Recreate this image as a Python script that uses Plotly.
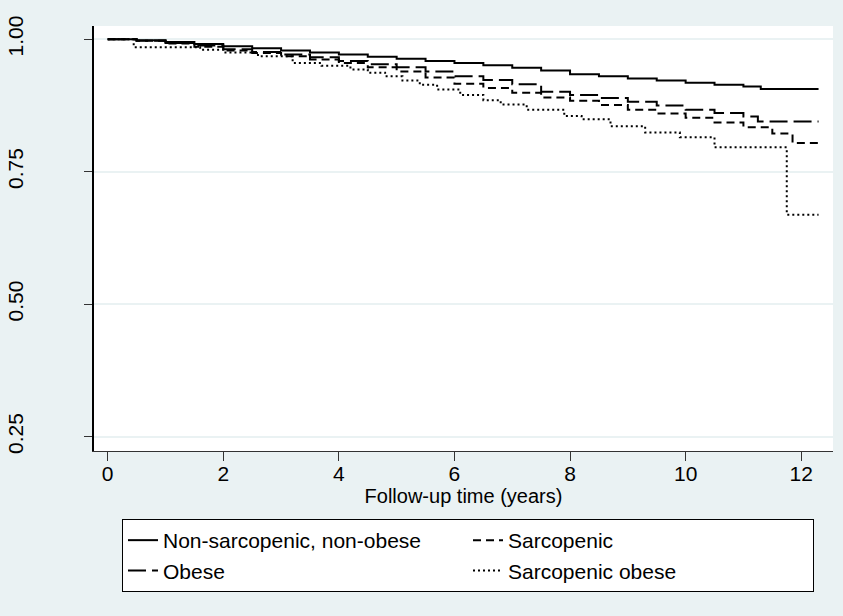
import plotly.graph_objects as go

# Follow-up time (years) and survival estimates
t_nsno = [0, 0.5, 1.0, 1.5, 2.0, 2.5, 3.0, 3.5, 4.0, 4.5, 5.0, 5.5, 6.0, 6.5, 7.0, 7.5, 8.0, 8.5, 9.0, 9.5, 10.0, 10.5, 11.0, 11.3, 12.3]
s_nsno = [1.0, 0.998, 0.995, 0.991, 0.987, 0.983, 0.979, 0.975, 0.971, 0.967, 0.963, 0.959, 0.955, 0.951, 0.946, 0.941, 0.934, 0.930, 0.926, 0.922, 0.918, 0.914, 0.911, 0.906, 0.906]

t_sarc = [0, 0.5, 1.0, 1.5, 2.0, 2.5, 3.0, 3.5, 4.0, 4.5, 5.0, 5.5, 6.0, 6.5, 7.0, 7.5, 8.0, 8.5, 9.0, 9.5, 10.0, 10.5, 11.0, 11.5, 11.85, 12.3]
s_sarc = [1.0, 0.997, 0.992, 0.986, 0.979, 0.974, 0.968, 0.962, 0.955, 0.947, 0.939, 0.928, 0.916, 0.908, 0.899, 0.890, 0.884, 0.876, 0.867, 0.860, 0.852, 0.843, 0.834, 0.822, 0.804, 0.804]

t_obese = [0, 0.5, 1.0, 1.5, 2.0, 2.5, 3.0, 3.5, 4.0, 4.5, 5.0, 5.5, 6.0, 6.5, 7.0, 7.5, 8.0, 8.5, 9.0, 9.5, 10.0, 10.5, 11.0, 11.25, 12.3]
s_obese = [1.0, 0.997, 0.993, 0.988, 0.981, 0.976, 0.971, 0.966, 0.959, 0.953, 0.947, 0.939, 0.930, 0.923, 0.915, 0.901, 0.895, 0.889, 0.882, 0.875, 0.867, 0.861, 0.854, 0.845, 0.845]

t_so = [0, 0.45, 1.6, 2.0, 2.6, 3.2, 3.7, 4.2, 4.5, 4.8, 5.1, 5.4, 5.7, 6.1, 6.5, 6.8, 7.25, 7.9, 8.2, 8.7, 9.3, 9.9, 10.5, 11.75, 12.3]
s_so = [1.0, 0.985, 0.980, 0.975, 0.968, 0.955, 0.950, 0.943, 0.937, 0.930, 0.922, 0.914, 0.905, 0.895, 0.885, 0.877, 0.867, 0.855, 0.849, 0.836, 0.824, 0.815, 0.796, 0.669, 0.669]

group_names = ["Non-sarcopenic, non-obese", "Sarcopenic", "Obese", "Sarcopenic obese"]
x_ticks = [0, 2, 4, 6, 8, 10, 12]
y_ticks = [0.25, 0.50, 0.75, 1.00]
y_ticktext = ["0.25", "0.50", "0.75", "1.00"]

series = [(t_nsno, s_nsno), (t_sarc, s_sarc), (t_obese, s_obese), (t_so, s_so)]
dashes = ["solid", "8px,5px", "18px,6px", "2px,3px"]

BG = "#EAF2F3"
FONT = "Liberation Sans, Arial, sans-serif"

fig = go.Figure()
for (t, s), name, d in zip(series, group_names, dashes):
    fig.add_trace(go.Scatter(
        x=t, y=s, mode="lines", name=name,
        line=dict(color="black", width=2, dash=d, shape="hv"),
    ))

W, H = 843, 616
fig.update_layout(
    width=W, height=H,
    margin=dict(l=0, r=0, t=0, b=0, autoexpand=False),
    paper_bgcolor=BG, plot_bgcolor="white",
    font=dict(family=FONT, size=20, color="black"),
    showlegend=True,
    xaxis=dict(
        domain=[94 / W, 833 / W], range=[-0.237, 12.55],
        tickvals=x_ticks, ticks="outside", ticklen=9, tickcolor="#333",
        showgrid=False, zeroline=False, showline=True, linecolor="#333", linewidth=1,
        title=dict(text="Follow-up time (years)", standoff=0, font=dict(size=20)),
        tickfont=dict(size=21), ticklabelstandoff=-5, automargin=False,
    ),
    yaxis=dict(
        domain=[1 - 451 / H, 1 - 26 / H], range=[0.223, 1.025],
        tickvals=y_ticks, ticktext=y_ticktext, tickangle=-90,
        ticks="outside", ticklen=8, tickcolor="#333",
        showgrid=True, gridcolor=BG, gridwidth=1.5,
        zeroline=False, showline=True, linecolor="black", linewidth=1.5,
        ticklabelstandoff=53, tickfont=dict(size=21), automargin=False,
    ),
    legend=dict(
        orientation="h", x=122 / W, y=1 - 519 / H, xanchor="left", yanchor="top",
        bordercolor="black", borderwidth=1, bgcolor="white",
        entrywidth=300, entrywidthmode="pixels",
        font=dict(size=21), traceorder="normal",
    ),
)

fig.write_html("out.html", config={"displayModeBar": False},
               post_script="document.body.style.margin='0';")
